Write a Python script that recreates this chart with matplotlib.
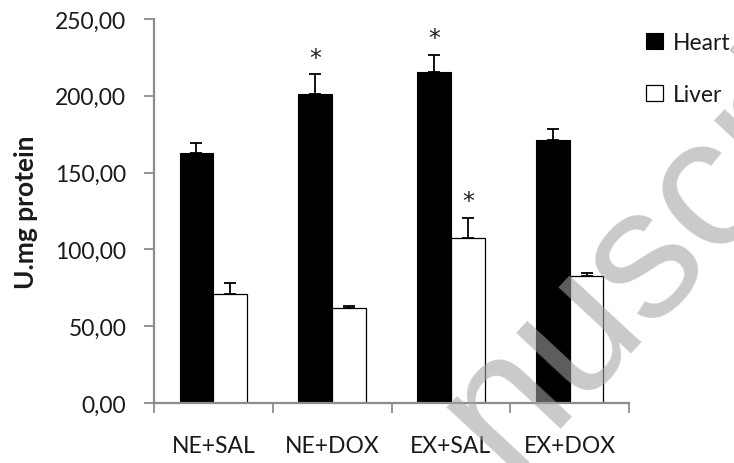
import matplotlib
matplotlib.use("Agg")
import matplotlib.pyplot as plt
import numpy as np
from matplotlib.ticker import FuncFormatter, FixedLocator

categories = ["NE+SAL", "NE+DOX", "EX+SAL", "EX+DOX"]
heart = [163.0, 201.0, 215.5, 171.0]
heart_err = [6.5, 13.0, 11.0, 7.5]
liver = [71.0, 62.0, 107.5, 82.5]
liver_err = [7.0, 1.0, 13.0, 2.0]
heart_sig = [False, True, True, False]
liver_sig = [False, False, True, False]
yticks = [0, 50, 100, 150, 200, 250]

plt.rcParams['font.family'] = ['Lato', 'DejaVu Sans']

fig = plt.figure(figsize=(7.34, 4.64), dpi=100)
ax = fig.add_axes([154/734, 1-404/464, (629-154)/734, (404-20)/464])

x = np.arange(len(categories))
w = 0.285
axis_col = '#8c8c8c'
txt_col = '#1a1a1a'
ekw = dict(ecolor='black', elinewidth=1.3, capthick=1.3)

ax.bar(x - w/2, heart, w, color='black', edgecolor='black', linewidth=0.8, label='Heart', zorder=2)
ax.bar(x + w/2, liver, w, color='white', edgecolor='black', linewidth=0.9, label='Liver', zorder=2)
ax.errorbar(x - w/2, heart, yerr=[np.zeros(4), heart_err], fmt='none', capsize=4.3, zorder=3, **ekw)
ax.errorbar(x + w/2, liver, yerr=[np.zeros(4), liver_err], fmt='none', capsize=4.3, zorder=3, **ekw)

for i in range(len(categories)):
    if heart_sig[i]:
        ax.text(x[i] - w/2, heart[i] + heart_err[i] + 3, '*', ha='center', va='bottom', fontsize=17,
                family='DejaVu Sans', color='#222222')
    if liver_sig[i]:
        ax.text(x[i] + w/2, liver[i] + liver_err[i] + 3, '*', ha='center', va='bottom', fontsize=17,
                family='DejaVu Sans', color='#222222')

ax.set_xlim(-0.5, len(categories) - 0.5)
ax.set_ylim(0, 250)
ax.set_yticks(yticks)
ax.yaxis.set_major_formatter(FuncFormatter(lambda v, p: f"{v:.2f}".replace('.', ',')))
ax.xaxis.set_major_locator(FixedLocator(np.arange(len(categories) + 1) - 0.5))
ax.xaxis.set_major_formatter(FuncFormatter(lambda v, p: ''))
ax.set_xticks(x, minor=True)
ax.set_xticklabels(categories, minor=True)
ax.tick_params(axis='x', which='minor', length=0, pad=23, labelsize=16.5, labelcolor=txt_col)
ax.tick_params(axis='x', which='major', length=7, width=1.3, color=axis_col, direction='out')
ax.tick_params(axis='y', length=7, width=1.3, color=axis_col, labelsize=16.5, labelcolor=txt_col, pad=13)

for s in ['top', 'right']:
    ax.spines[s].set_visible(False)
for s in ['left', 'bottom']:
    ax.spines[s].set_color(axis_col)
    ax.spines[s].set_linewidth(1.6)

ax.set_ylabel('U.mg protein', fontsize=19, fontweight='bold', labelpad=12, color=txt_col)

leg = ax.legend(loc='upper left', bbox_to_anchor=(646/734, 1-33/464), bbox_transform=fig.transFigure,
                frameon=False, fontsize=16.5,
                handlelength=0.72, handleheight=0.72, handletextpad=0.45, labelspacing=1.35,
                borderaxespad=0.0, borderpad=0.0)
for t in leg.get_texts():
    t.set_color(txt_col)

fig.text(506/734, 1-474/464, 'nuscript', rotation=47, rotation_mode='anchor', fontsize=134,
         family='Liberation Sans', color='#a3a3a3', alpha=0.58, ha='left', va='baseline', zorder=10)

fig.savefig('out.png', dpi=100)
